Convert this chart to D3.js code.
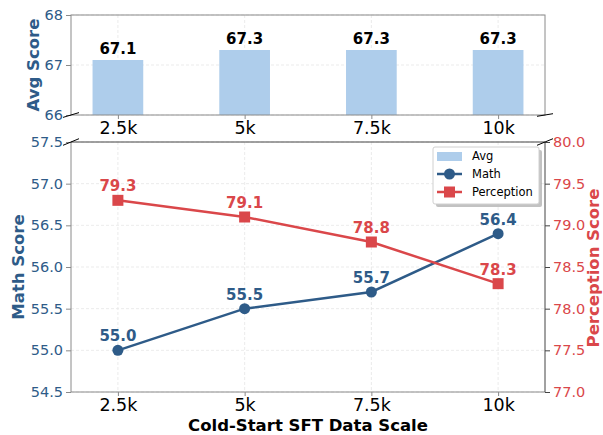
<!DOCTYPE html>
<html><head><meta charset="utf-8">
<script src="https://cdn.jsdelivr.net/npm/d3@7"></script>
<style>body{margin:0;background:#fff}svg{display:block;font-family:"DejaVu Sans",sans-serif}</style>
</head><body><svg id="c" width="603" height="435"></svg>
<script>
const categories = ["2.5k", "5k", "7.5k", "10k"];
const avgScores = [67.1, 67.3, 67.3, 67.3];
const mathScores = [55.0, 55.5, 55.7, 56.4];
const perceptionScores = [79.3, 79.1, 78.8, 78.3];
const avgTicks = [66, 67, 68];
const mathTicks = [54.5, 55.0, 55.5, 56.0, 56.5, 57.0, 57.5];
const percTicks = [77.0, 77.5, 78.0, 78.5, 79.0, 79.5, 80.0];

const BLUE = "#2e5b88", RED = "#da474a", BAR = "#aecdeb", SPINE = "#8a8a8a", SPINE2 = "#444";
const svg = d3.select("#c");
const L = 71, R = 545;
const x = d3.scaleLinear().domain([-0.37, 3.37]).range([L, R]);
const yTop = d3.scaleLinear().domain([66, 68]).range([115, 15]);
const yMath = d3.scaleLinear().domain([54.5, 57.5]).range([392, 142]);
const yPerc = d3.scaleLinear().domain([77, 80]).range([392, 142]);
const idx = categories.map((_, i) => i);

function grid(y0, y1, yScale, ticks) {
  const g = svg.append("g").attr("stroke", "#e6e6e6").attr("stroke-width", 0.8).attr("stroke-dasharray", "3,2");
  idx.forEach(i => g.append("line").attr("x1", x(i)).attr("x2", x(i)).attr("y1", y0).attr("y2", y1));
  ticks.forEach(t => g.append("line").attr("x1", L).attr("x2", R).attr("y1", yScale(t)).attr("y2", yScale(t)));
}
grid(15, 115, yTop, avgTicks);
grid(142, 392, yMath, mathTicks);

// bars
const bw = x(0.2) - x(0);
svg.append("g").selectAll("rect").data(avgScores).join("rect")
  .attr("x", (d, i) => x(i) - bw).attr("width", 2 * bw)
  .attr("y", d => yTop(d)).attr("height", d => 115 - yTop(d))
  .attr("fill", BAR);
svg.append("g").selectAll("text").data(avgScores).join("text")
  .attr("x", (d, i) => x(i)).attr("y", d => yTop(d) - 6)
  .attr("text-anchor", "middle").attr("font-weight", "bold").attr("font-size", 15).attr("fill", "#000")
  .text(d => d.toFixed(1));

// axes top panel
function styleAxis(g, color, fs, lc) {
  g.select(".domain").remove();
  g.selectAll(".tick line").attr("stroke", lc || SPINE);
  g.selectAll(".tick text").attr("fill", color).attr("font-size", fs).attr("font-family", "DejaVu Sans");
}
svg.append("g").attr("transform", `translate(${L},0)`)
  .call(d3.axisLeft(yTop).tickValues(avgTicks).tickFormat(d3.format("d")).tickSize(5).tickPadding(3))
  .call(g => styleAxis(g, BLUE, 14.5));
svg.append("g").attr("transform", `translate(0,115)`)
  .call(d3.axisBottom(x).tickValues(idx).tickFormat(i => categories[i]).tickSize(4).tickPadding(3))
  .call(g => styleAxis(g, "#000", 17.5));

// lines bottom panel
const lineM = d3.line().x((d, i) => x(i)).y(d => yMath(d));
const lineP = d3.line().x((d, i) => x(i)).y(d => yPerc(d));
svg.append("path").attr("d", lineM(mathScores)).attr("fill", "none").attr("stroke", BLUE).attr("stroke-width", 2.5);
svg.append("path").attr("d", lineP(perceptionScores)).attr("fill", "none").attr("stroke", RED).attr("stroke-width", 2.5);
svg.append("g").selectAll("circle").data(mathScores).join("circle")
  .attr("cx", (d, i) => x(i)).attr("cy", d => yMath(d)).attr("r", 5.5).attr("fill", BLUE);
svg.append("g").selectAll("rect").data(perceptionScores).join("rect")
  .attr("x", (d, i) => x(i) - 5.5).attr("y", d => yPerc(d) - 5.5).attr("width", 11).attr("height", 11).attr("fill", RED);
svg.append("g").selectAll("text").data(mathScores).join("text")
  .attr("x", (d, i) => x(i)).attr("y", d => yMath(d) - 9)
  .attr("text-anchor", "middle").attr("font-weight", "bold").attr("font-size", 15).attr("fill", BLUE)
  .text(d => d.toFixed(1));
svg.append("g").selectAll("text").data(perceptionScores).join("text")
  .attr("x", (d, i) => x(i)).attr("y", d => yPerc(d) - 9)
  .attr("text-anchor", "middle").attr("font-weight", "bold").attr("font-size", 15).attr("fill", RED)
  .text(d => d.toFixed(1));

svg.append("g").attr("transform", `translate(${L},0)`)
  .call(d3.axisLeft(yMath).tickValues(mathTicks).tickFormat(d3.format(".1f")).tickSize(5).tickPadding(3))
  .call(g => styleAxis(g, BLUE, 14.5));
svg.append("g").attr("transform", `translate(${R},0)`)
  .call(d3.axisRight(yPerc).tickValues(percTicks).tickFormat(d3.format(".1f")).tickSize(5).tickPadding(3))
  .call(g => styleAxis(g, RED, 14.5, SPINE2));
svg.append("g").attr("transform", `translate(0,392)`)
  .call(d3.axisBottom(x).tickValues(idx).tickFormat(i => categories[i]).tickSize(4).tickPadding(3))
  .call(g => styleAxis(g, "#000", 17.5));

// spines
const sp = svg.append("g").attr("fill", "none");
sp.append("rect").attr("x", L).attr("y", 15).attr("width", R - L).attr("height", 100).attr("stroke", SPINE).attr("stroke-width", 1);
sp.append("line").attr("x1", L).attr("x2", L).attr("y1", 142).attr("y2", 392).attr("stroke", SPINE);
sp.append("line").attr("x1", L).attr("x2", R).attr("y1", 392).attr("y2", 392).attr("stroke", SPINE);
sp.append("line").attr("x1", L).attr("x2", R).attr("y1", 142).attr("y2", 142).attr("stroke", SPINE2);
sp.append("line").attr("x1", R).attr("x2", R).attr("y1", 142).attr("y2", 392).attr("stroke", SPINE2);
// break marks
const bk = svg.append("g").attr("stroke", "#000").attr("stroke-width", 1);
[[L, 115, 2.4], [R, 115, 1.3], [L, 142, 3.3], [R, 142, 3.3]].forEach(([cx, cy, dy]) =>
  bk.append("line").attr("x1", cx - 8).attr("y1", cy + dy).attr("x2", cx + 8).attr("y2", cy - dy));

// axis titles
svg.append("text").attr("transform", "translate(39,65) rotate(-90)").attr("text-anchor", "middle")
  .attr("font-weight", "bold").attr("font-size", 16.5).attr("fill", BLUE).text("Avg Score");
svg.append("text").attr("transform", "translate(24,267) rotate(-90)").attr("text-anchor", "middle")
  .attr("font-weight", "bold").attr("font-size", 16.5).attr("fill", BLUE).text("Math Score");
svg.append("text").attr("transform", "translate(599,268) rotate(-90)").attr("text-anchor", "middle")
  .attr("font-weight", "bold").attr("font-size", 16.5).attr("fill", RED).text("Perception Score");
svg.append("text").attr("x", 308).attr("y", 431).attr("text-anchor", "middle")
  .attr("font-weight", "bold").attr("font-size", 16.5).attr("fill", "#000").text("Cold-Start SFT Data Scale");

// legend
const lg = svg.append("g").attr("transform", "translate(433,147)");
lg.append("rect").attr("x", 3).attr("y", 3).attr("width", 106).attr("height", 57).attr("rx", 2).attr("fill", "#9a9a9a").attr("opacity", 0.6);
lg.append("rect").attr("x", 0).attr("y", 0).attr("width", 106).attr("height", 57).attr("rx", 2).attr("fill", "#fff").attr("stroke", "#d0d0d0");
const items = [{ name: "Avg", type: "bar" }, { name: "Math", type: "circle", c: BLUE }, { name: "Perception", type: "square", c: RED }];
items.forEach((it, i) => {
  const cy = 9 + i * 18;
  if (it.type === "bar") lg.append("rect").attr("x", 4).attr("y", cy - 4).attr("width", 25).attr("height", 9).attr("fill", BAR);
  else {
    lg.append("line").attr("x1", 4).attr("x2", 29).attr("y1", cy).attr("y2", cy).attr("stroke", it.c).attr("stroke-width", 2.5);
    if (it.type === "circle") lg.append("circle").attr("cx", 16.5).attr("cy", cy).attr("r", 5.5).attr("fill", it.c);
    else lg.append("rect").attr("x", 11).attr("y", cy - 5.5).attr("width", 11).attr("height", 11).attr("fill", it.c);
  }
  lg.append("text").attr("x", 39).attr("y", cy + 4).attr("font-size", 11.5).attr("fill", "#000").text(it.name);
});
</script></body></html>
